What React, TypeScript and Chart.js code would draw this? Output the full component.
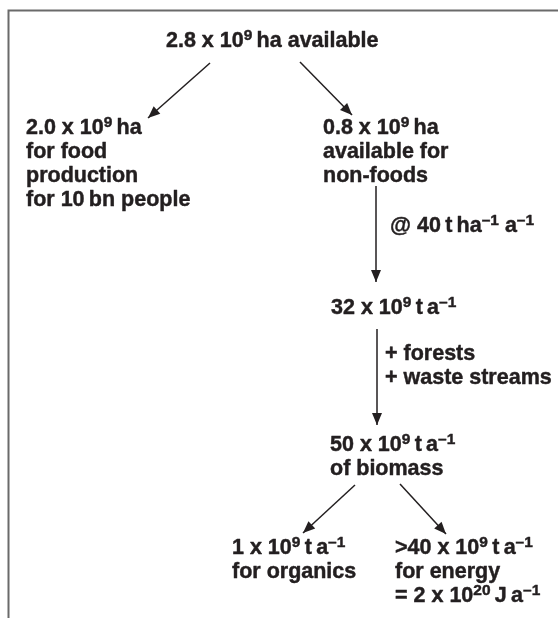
import { useEffect, useRef } from "react";
import { Chart, registerables } from "chart.js";

Chart.register(...registerables);

// ---- Diagram content (diagram coordinates: x to the right, y downward) ----
const nodeText: string[][] = [
  ["2.8 x 10^{9}\u2009ha available"],
  ["2.0 x 10^{9}\u2009ha", "for food", "production", "for 10\u2009bn people"],
  ["0.8 x 10^{9}\u2009ha", "available for", "non-foods"],
  ["@ 40\u2009t\u2009ha^{\u20131} a^{\u20131}"],
  ["32 x 10^{9}\u2009t\u2009a^{\u20131}"],
  ["+ forests", "+ waste streams"],
  ["50 x 10^{9}\u2009t\u2009a^{\u20131}", "of biomass"],
  ["1 x 10^{9}\u2009t\u2009a^{\u20131}", "for organics"],
  [">40 x 10^{9}\u2009t\u2009a^{\u20131}", "for energy", "= 2 x 10^{20}\u2009J\u2009a^{\u20131}"],
];
const nodeX = [166, 26, 323, 390, 331, 385, 330, 232, 395];
const nodeY = [47, 134, 134, 232, 314, 360, 451, 554, 554];

const arrowFromX = [210, 300, 376, 377, 355, 400];
const arrowFromY = [63, 62, 186, 329, 485, 484];
const arrowToX = [148, 352, 376, 377, 303, 446];
const arrowToY = [118, 115, 282, 425, 533, 534];

const frameX = 8.5;
const frameY = 10.5;

const INK = "#231f20";
const FONT_FAMILY = "'Liberation Sans', Arial, Helvetica, sans-serif";
const FONT_SIZE = 21.5;
const LINE_GAP = 24;

type Seg = { t: string; sup: boolean };
function parseRich(s: string): Seg[] {
  const out: Seg[] = [];
  const re = /\^\{([^}]*)\}/g;
  let last = 0;
  let m: RegExpExecArray | null;
  while ((m = re.exec(s))) {
    if (m.index > last) out.push({ t: s.slice(last, m.index), sup: false });
    out.push({ t: m[1], sup: true });
    last = m.index + m[0].length;
  }
  if (last < s.length) out.push({ t: s.slice(last), sup: false });
  return out;
}

const diagramPlugin = {
  id: "diagram",
  beforeDatasetsDraw(chart: any) {
    const { ctx, scales } = chart;
    const xs = scales.x;
    const ys = scales.y;
    ctx.save();
    ctx.strokeStyle = "#6a6a6a";
    ctx.lineWidth = 2;
    ctx.beginPath();
    ctx.moveTo(xs.getPixelForValue(frameX), ys.getPixelForValue(618));
    ctx.lineTo(xs.getPixelForValue(frameX), ys.getPixelForValue(frameY));
    ctx.lineTo(xs.getPixelForValue(558), ys.getPixelForValue(frameY));
    ctx.stroke();
    ctx.restore();
  },
  afterDatasetsDraw(chart: any) {
    const { ctx, scales } = chart;
    const xs = scales.x;
    const ys = scales.y;
    ctx.save();
    // arrowheads
    ctx.fillStyle = INK;
    for (let i = 0; i < arrowToX.length; i++) {
      const x0 = xs.getPixelForValue(arrowFromX[i]);
      const y0 = ys.getPixelForValue(arrowFromY[i]);
      const x1 = xs.getPixelForValue(arrowToX[i]);
      const y1 = ys.getPixelForValue(arrowToY[i]);
      const a = Math.atan2(y1 - y0, x1 - x0);
      const len = 12;
      const hw = 5;
      const bx = x1 - len * Math.cos(a);
      const by = y1 - len * Math.sin(a);
      ctx.beginPath();
      ctx.moveTo(x1, y1);
      ctx.lineTo(bx + hw * Math.sin(a), by - hw * Math.cos(a));
      ctx.lineTo(bx - hw * Math.sin(a), by + hw * Math.cos(a));
      ctx.closePath();
      ctx.fill();
    }
    // text
    ctx.textBaseline = "alphabetic";
    ctx.textAlign = "left";
    ctx.strokeStyle = INK;
    ctx.lineWidth = 0.45;
    ctx.lineJoin = "round";
    const supSize = FONT_SIZE * 0.72;
    for (let n = 0; n < nodeText.length; n++) {
      const lines = nodeText[n];
      for (let l = 0; l < lines.length; l++) {
        let x = xs.getPixelForValue(nodeX[n]);
        const y = ys.getPixelForValue(nodeY[n] + l * LINE_GAP);
        for (const seg of parseRich(lines[l])) {
          let ty = y;
          if (seg.sup) {
            ctx.font = `bold ${supSize}px ${FONT_FAMILY}`;
            ty = y - FONT_SIZE * 0.34;
          } else {
            ctx.font = `bold ${FONT_SIZE}px ${FONT_FAMILY}`;
          }
          ctx.fillText(seg.t, x, ty);
          ctx.strokeText(seg.t, x, ty);
          x += ctx.measureText(seg.t).width;
        }
      }
    }
    ctx.restore();
  },
};

export default function App() {
  const ref = useRef<HTMLCanvasElement | null>(null);
  useEffect(() => {
    document.body.style.margin = "0";
    if (!ref.current) return;
    const datasets = arrowFromX.map((_, i) => ({
      type: "line" as const,
      data: [
        { x: arrowFromX[i], y: arrowFromY[i] },
        { x: arrowToX[i], y: arrowToY[i] },
      ],
      borderColor: INK,
      borderWidth: 1.5,
      pointRadius: 0,
      fill: false,
      tension: 0,
    }));
    const chart = new Chart(ref.current, {
      type: "scatter",
      data: { datasets: datasets as any },
      options: {
        animation: false,
        responsive: false,
        devicePixelRatio: 1,
        showLine: true,
        layout: { padding: 0 },
        plugins: { legend: { display: false }, tooltip: { enabled: false } },
        scales: {
          x: { type: "linear", min: 0, max: 558, display: false },
          y: { type: "linear", min: 0, max: 618, reverse: true, display: false },
        },
      } as any,
      plugins: [diagramPlugin],
    });
    return () => chart.destroy();
  }, []);
  return (
    <div style={{ position: "absolute", left: 0, top: 0, width: 558, height: 618, background: "#fff" }}>
      <canvas ref={ref} width={558} height={618} style={{ display: "block" }} />
    </div>
  );
}
